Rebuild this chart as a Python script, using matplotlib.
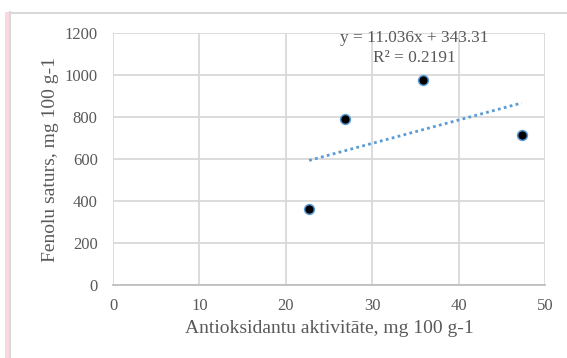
import numpy as np
import matplotlib
matplotlib.use("Agg")
import matplotlib.pyplot as plt
from matplotlib.lines import Line2D
from matplotlib.patches import Rectangle

x_vals = [22.7, 26.9, 35.9, 47.3]
y_vals = [360, 790, 975, 715]
x_ticks = [0, 10, 20, 30, 40, 50]
y_ticks = [0, 200, 400, 600, 800, 1000, 1200]
eq_text = "y = 11.036x + 343.31\nR² = 0.2191"
x_label = "Antioksidantu aktivitāte, mg 100 g-1"
y_label = "Fenolu saturs, mg 100 g-1"

plt.rcParams['font.family'] = ['Liberation Serif', 'DejaVu Serif']
txt = '#595959'
grid_c = '#d9d9d9'
blue = '#5b9bd5'

fig = plt.figure(figsize=(5.67, 3.58), dpi=100)
# decorative frame
fig.add_artist(Rectangle((5/567, 0), 4/567, 1 - 12/358, transform=fig.transFigure,
                         facecolor='#fdd7e0', edgecolor='none'))
fig.add_artist(Line2D([9.5/567, 9.5/567], [0, 1 - 12/358], transform=fig.transFigure,
                      color='#d9d9d9', lw=1.5))
fig.add_artist(Line2D([9.5/567, 1], [1 - 12.5/358, 1 - 12.5/358], transform=fig.transFigure,
                      color='#d9d9d9', lw=1.5))

ax = fig.add_axes([113/567, 1 - 285/358, (545 - 113)/567, (285 - 33)/358])
ax.set_xlim(0, 50)
ax.set_ylim(0, 1200)
ax.set_xticks(x_ticks)
ax.set_yticks(y_ticks)
ax.grid(True, color=grid_c, lw=1.3)
ax.set_axisbelow(True)
for s in ['top', 'right', 'left']:
    ax.spines[s].set_visible(False)
ax.spines['bottom'].set_color('#bfbfbf')
ax.spines['bottom'].set_linewidth(1.3)
ax.tick_params(length=0, labelsize=12, labelcolor=txt)
ax.tick_params(axis='y', pad=11)
ax.tick_params(axis='x', pad=9)

# trendline from data
m, b = np.polyfit(x_vals, y_vals, 1)
xs = np.array([min(x_vals), max(x_vals)])
ax.plot(xs, m * xs + b, linestyle=(0, (1, 1.2)), color=blue, lw=2, zorder=2)

ax.scatter(x_vals, y_vals, s=50, facecolor='black', edgecolor=blue, linewidth=1.1, zorder=3)

ax.text(414/567, 1 - 48/358, eq_text, transform=fig.transFigure, ha='center', va='center',
        fontsize=12.4, color=txt, linespacing=1.25)

ax.set_xlabel(x_label, fontsize=14, color=txt, labelpad=5)
ax.set_ylabel(y_label, fontsize=14, color=txt, labelpad=4)

fig.savefig("out.png", dpi=100, facecolor='white')
